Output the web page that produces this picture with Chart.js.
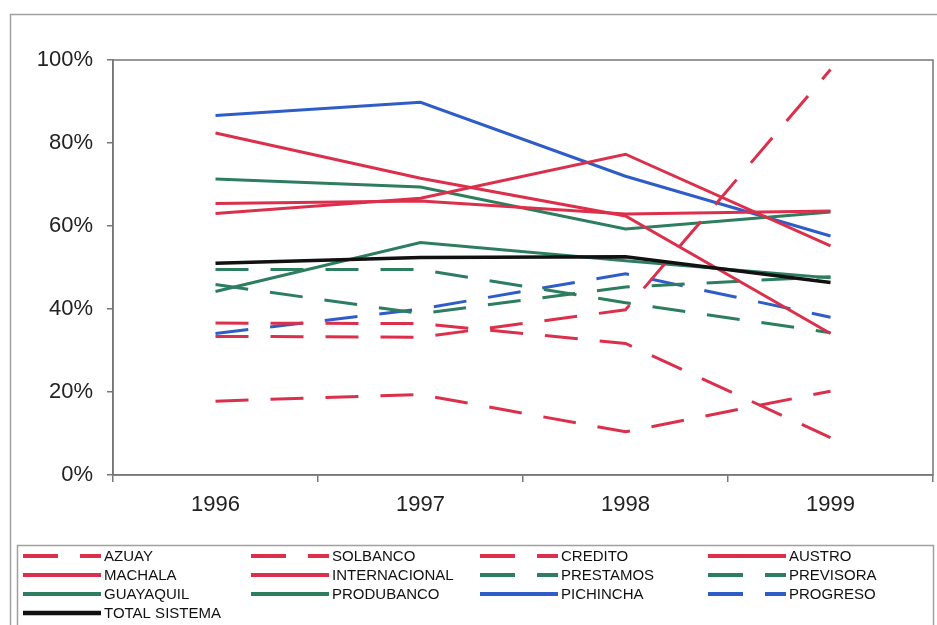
<!DOCTYPE html>
<html>
<head>
<meta charset="utf-8">
<script src="https://cdn.jsdelivr.net/npm/chart.js@4"></script>
<style>
  html, body { margin: 0; padding: 0; background: #fff; }
  #wrap { width: 937px; height: 625px; position: relative; }
</style>
</head>
<body>
<div id="wrap"><canvas id="chart"></canvas></div>
<script>
// categories and tick labels
const years = ['1996', '1997', '1998', '1999'];
const yTicks = [0, 20, 40, 60, 80, 100];

// series values (%)
const azuay = [33.4, 33.2, 39.8, 97.7];
const solbanco = [36.6, 36.5, 31.7, 9.0];
const credito = [17.8, 19.4, 10.4, 20.2];
const austro = [63.0, 66.7, 77.3, 55.2];
const machala = [82.4, 71.5, 62.4, 34.1];
const internacional = [65.4, 66.0, 62.9, 63.6];
const prestamos = [49.5, 49.5, 41.5, 34.3];
const previsora = [45.9, 38.9, 45.3, 47.8];
const guayaquil = [44.2, 56.0, 51.6, 47.5];
const produbanco = [71.3, 69.4, 59.3, 63.4];
const pichincha = [86.6, 89.8, 72.0, 57.6];
const progreso = [34.1, 40.0, 48.5, 38.0];
const totalSistema = [51.0, 52.4, 52.6, 46.4];

const RED = '#dc2f4b';
const GREEN = '#2d7d5f';
const BLUE = '#2e5cc8';
const BLACK = '#111111';
const DASH = [33, 22];

function series(label, data, color, dashed, width) {
  return {
    label: label,
    data: data,
    borderColor: color,
    backgroundColor: color,
    borderWidth: width || 3,
    borderDash: dashed ? DASH : [],
    pointRadius: 0,
    tension: 0,
    fill: false
  };
}

const datasets = [
  series('AZUAY', azuay, RED, true),
  series('SOLBANCO', solbanco, RED, true),
  series('CREDITO', credito, RED, true),
  series('AUSTRO', austro, RED, false),
  series('MACHALA', machala, RED, false),
  series('INTERNACIONAL', internacional, RED, false),
  series('PRESTAMOS', prestamos, GREEN, true),
  series('PREVISORA', previsora, GREEN, true),
  series('GUAYAQUIL', guayaquil, GREEN, false),
  series('PRODUBANCO', produbanco, GREEN, false),
  series('PICHINCHA', pichincha, BLUE, false),
  series('PROGRESO', progreso, BLUE, true),
  series('TOTAL SISTEMA', totalSistema, BLACK, false, 3.5)
];
datasets[12].order = -1; // black line on top

// frames: outer border, plot box, and the legend box
const framePlugin = {
  id: 'frames',
  beforeDraw(chart) {
    const ctx = chart.ctx;
    ctx.save();
    ctx.fillStyle = '#fff';
    ctx.fillRect(0, 0, chart.width, chart.height);
    ctx.strokeStyle = '#a0a0a0';
    ctx.lineWidth = 1.5;
    ctx.strokeRect(10.5, 14.5, 940, 640);
    ctx.strokeRect(17.5, 545.5, 916, 100);
    ctx.restore();
  },
  afterDatasetsDraw(chart) {
    const a = chart.chartArea;
    const ctx = chart.ctx;
    ctx.save();
    ctx.strokeStyle = '#777';
    ctx.lineWidth = 1.5;
    ctx.strokeRect(a.left, a.top, a.right - a.left, a.bottom - a.top);
    ctx.restore();
  }
};

// four-column legend like the original
const legendPlugin = {
  id: 'gridLegend',
  afterDraw(chart) {
    const ctx = chart.ctx;
    const colX = [23, 251, 480, 708];
    const rowY = [556, 575, 594, 613];
    ctx.save();
    ctx.font = '15px "Liberation Sans", Arial, sans-serif';
    ctx.textBaseline = 'middle';
    ctx.fillStyle = '#111';
    chart.data.datasets.forEach((ds, i) => {
      const x = colX[i % 4];
      const y = rowY[Math.floor(i / 4)];
      ctx.beginPath();
      ctx.strokeStyle = ds.borderColor;
      ctx.lineWidth = ds.borderWidth + 1;
      ctx.setLineDash(ds.borderDash.length ? [35, 22] : []);
      ctx.moveTo(x, y);
      ctx.lineTo(x + 78, y);
      ctx.stroke();
      ctx.setLineDash([]);
      ctx.fillText(ds.label, x + 81, y + 1);
    });
    ctx.restore();
  }
};

const tickFont = { family: '"Liberation Sans", Arial, sans-serif', size: 22 };

new Chart(document.getElementById('chart'), {
  type: 'line',
  data: { labels: years, datasets: datasets },
  plugins: [framePlugin, legendPlugin],
  options: {
    responsive: true,
    maintainAspectRatio: false,
    animation: false,
    layout: { padding: { left: 0, top: 60, right: 4, bottom: 80 } },
    plugins: {
      legend: { display: false },
      tooltip: { enabled: false }
    },
    scales: {
      x: {
        offset: true,
        grid: {
          offset: true,
          drawOnChartArea: false,
          tickLength: 7,
          color: '#777',
          lineWidth: 1.5
        },
        border: { color: '#777', width: 1.5 },
        ticks: { font: tickFont, color: '#222', padding: 10, maxRotation: 0 },
        afterFit(axis) { axis.height = 70; }
      },
      y: {
        min: 0,
        max: 100,
        afterBuildTicks(axis) { axis.ticks = yTicks.map(v => ({ value: v })); },
        grid: {
          drawOnChartArea: false,
          tickLength: 6,
          color: '#777',
          lineWidth: 1.5
        },
        border: { color: '#777', width: 1.5 },
        ticks: {
          font: tickFont,
          color: '#222',
          padding: 14,
          callback: v => v + '%'
        },
        afterFit(axis) { axis.width = 113; }
      }
    }
  }
});
</script>
</body>
</html>
